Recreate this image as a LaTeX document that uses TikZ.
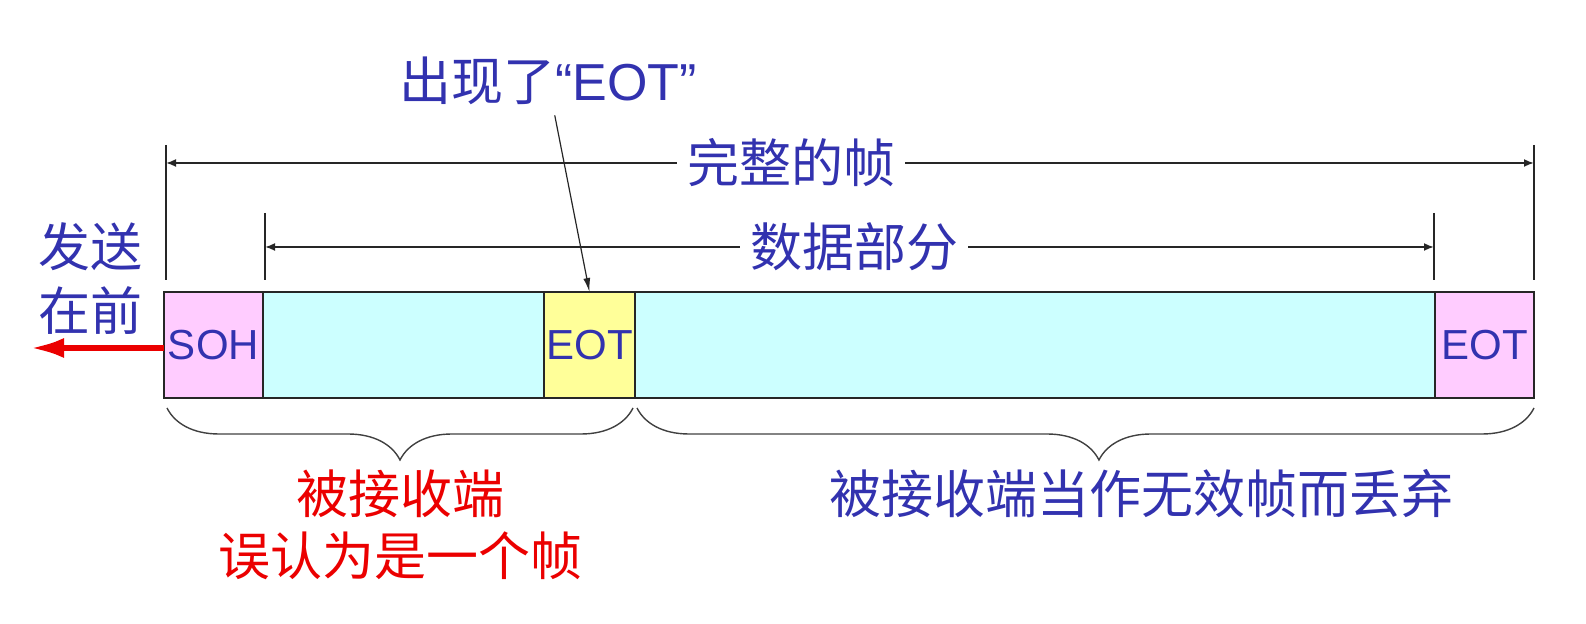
\documentclass[tikz,border=0pt]{standalone}
\usepackage{fontspec}
\setmainfont{Liberation Sans}
\newfontfamily\cjk{Noto Sans CJK SC}
\usetikzlibrary{arrows.meta,decorations.pathreplacing}
\definecolor{txtblue}{RGB}{50,50,175}
\definecolor{txtred}{RGB}{235,0,0}
\definecolor{pinkf}{RGB}{255,204,255}
\definecolor{cyanf}{RGB}{204,255,255}
\definecolor{yellowf}{RGB}{255,255,153}
\begin{document}
\begin{tikzpicture}[x=0.5pt,y=-0.5pt,
  field/.style={draw=black!85,line width=1pt,inner sep=0pt,outer sep=0pt,
    minimum height=53pt,font=\fontsize{21}{21}\selectfont,text=txtblue},
  dimline/.style={line width=0.9pt,black!85,
    {Latex[length=5pt,width=4pt]}-{Latex[length=5pt,width=4pt]}},
  tickline/.style={line width=0.9pt,black!85},
  lbl/.style={font=\cjk\fontsize{26}{26}\selectfont,text=txtblue,inner sep=5pt},
  ptr/.style={line width=0.6pt,black!85,-{Latex[length=7pt,width=3.5pt]}},
  brc/.style={line width=0.7pt,black!75,decorate,
    decoration={brace,mirror,amplitude=26pt}},
  sendarrow/.style={line width=3pt,txtred,-{Latex[length=17pt,width=10pt]}}]
\useasboundingbox (0,0) rectangle (1586,624);
% frame fields
\node[field,fill=pinkf,minimum width=49.5pt] (soh) at (213.5,345) {SOH};
\node[field,fill=cyanf,minimum width=140.5pt] (d1) at (403.5,345) {};
\node[field,fill=yellowf,minimum width=45.5pt] (eot1) at (589.5,345) {EOT};
\node[field,fill=cyanf,minimum width=400pt] (d2) at (1035,345) {};
\node[field,fill=pinkf,minimum width=49.5pt] (eot2) at (1484.5,345) {EOT};
% tick coordinates
\coordinate (fa) at (166,145);
\coordinate (fb) at (166,280);
\coordinate (fc) at (1534,145);
\coordinate (fd) at (1534,280);
\coordinate (fam) at (166,163);
\coordinate (fcm) at (1534,163);
\coordinate (ga) at (265,213);
\coordinate (gb) at (265,280);
\coordinate (gc) at (1434,213);
\coordinate (gd) at (1434,280);
\coordinate (gam) at (265,247);
\coordinate (gcm) at (1434,247);
\draw[tickline] (fa) -- (fb);
\draw[tickline] (fc) -- (fd);
\draw[tickline] (ga) -- (gb);
\draw[tickline] (gc) -- (gd);
\draw[dimline] (fam) -- (fcm);
\draw[dimline] (gam) -- (gcm);
\node[lbl,fill=white] (full) at (791,163) {完整的帧};
\node[lbl,fill=white] (data) at (854,247) {数据部分};
% callout
\node[lbl,font=\fontsize{26}{26}\selectfont] (callout) at (548,81) {{\cjk 出现了}“EOT”};
\draw[ptr] (callout) -- (eot1.north);
% send first
\node[lbl,align=center,font=\cjk\fontsize{26}{32}\selectfont] (send) at (91,279) {发送\\在前};
\coordinate (sendtip) at (30,348);
\draw[sendarrow] ([yshift=-1.5pt]soh.west) -- (sendtip);
% braces
\coordinate (b1a) at (167,408);
\coordinate (b1b) at (633,408);
\coordinate (b2a) at (637,408);
\coordinate (b2b) at (1534,408);
\draw[brc] (b1a) -- (b1b);
\draw[brc,decoration={aspect=0.515}] (b2a) -- (b2b);
\node[lbl,align=center,text=txtred,font=\cjk\fontsize{26}{31}\selectfont] (mis) at (400,525) {被接收端\\误认为是一个帧};
\node[lbl] (discard) at (1141,494) {被接收端当作无效帧而丢弃};
\end{tikzpicture}
\end{document}
